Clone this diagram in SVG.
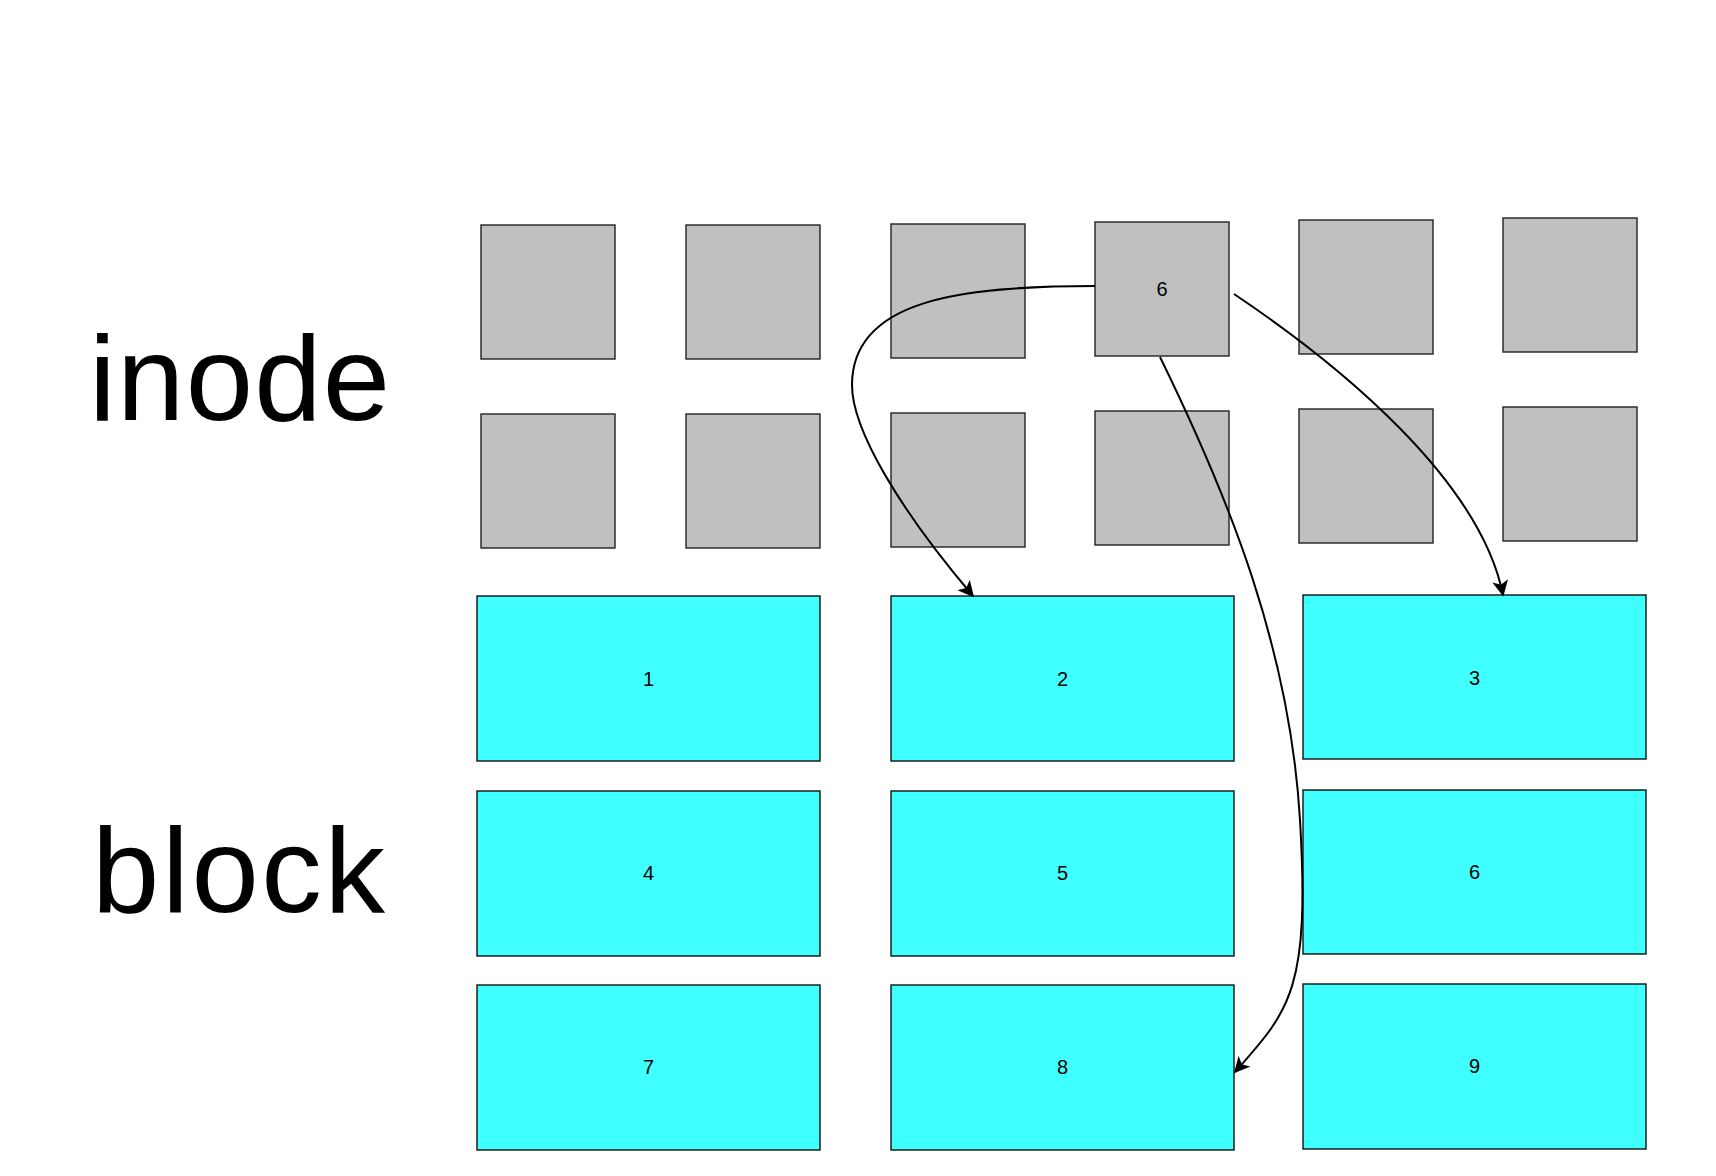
<svg xmlns="http://www.w3.org/2000/svg" width="1716" height="1176" viewBox="0 0 1716 1176">
<style>
.ino{fill:#c0c0c0;stroke:#222;stroke-width:1.4}
.blk{fill:#40ffff;stroke:#111;stroke-width:1.4}
.lbl{font-family:"Liberation Sans",Arial,sans-serif;font-size:20px;fill:#000;text-anchor:middle;dominant-baseline:central}
.big{font-family:"Liberation Sans",Arial,sans-serif;font-size:121px;fill:#000}
.edge{fill:none;stroke:#000;stroke-width:2}
</style>
<defs>
<marker id="arr" viewBox="0 0 10 10" refX="9" refY="5" markerWidth="8" markerHeight="8" markerUnits="strokeWidth" orient="auto">
<path d="M0,0 L10,5 L0,10 L2.5,5 z" fill="#000"/>
</marker>
</defs>
<rect width="1716" height="1176" fill="#fff"/>
<text class="big" x="89" y="420" textLength="301" lengthAdjust="spacing">inode</text>
<text class="big" x="92" y="912" textLength="293" lengthAdjust="spacing">block</text>
<g id="inode-r1c1"><rect class="ino" x="481" y="225" width="134" height="134"/></g>
<g id="inode-r1c2"><rect class="ino" x="686" y="225" width="134" height="134"/></g>
<g id="inode-r1c3"><rect class="ino" x="891" y="224" width="134" height="134"/></g>
<g id="inode-6"><rect class="ino" x="1095" y="222" width="134" height="134"/><text class="lbl" x="1162" y="289">6</text></g>
<g id="inode-r1c5"><rect class="ino" x="1299" y="220" width="134" height="134"/></g>
<g id="inode-r1c6"><rect class="ino" x="1503" y="218" width="134" height="134"/></g>
<g id="inode-r2c1"><rect class="ino" x="481" y="414" width="134" height="134"/></g>
<g id="inode-r2c2"><rect class="ino" x="686" y="414" width="134" height="134"/></g>
<g id="inode-r2c3"><rect class="ino" x="891" y="413" width="134" height="134"/></g>
<g id="inode-r2c4"><rect class="ino" x="1095" y="411" width="134" height="134"/></g>
<g id="inode-r2c5"><rect class="ino" x="1299" y="409" width="134" height="134"/></g>
<g id="inode-r2c6"><rect class="ino" x="1503" y="407" width="134" height="134"/></g>
<g id="block-1"><rect class="blk" x="477" y="596" width="343" height="165"/><text class="lbl" x="648.5" y="679">1</text></g>
<g id="block-2"><rect class="blk" x="891" y="596" width="343" height="165"/><text class="lbl" x="1062.5" y="679">2</text></g>
<g id="block-3"><rect class="blk" x="1303" y="595" width="343" height="164"/><text class="lbl" x="1474.5" y="678">3</text></g>
<g id="block-4"><rect class="blk" x="477" y="791" width="343" height="165"/><text class="lbl" x="648.5" y="873">4</text></g>
<g id="block-5"><rect class="blk" x="891" y="791" width="343" height="165"/><text class="lbl" x="1062.5" y="873">5</text></g>
<g id="block-6"><rect class="blk" x="1303" y="790" width="343" height="164"/><text class="lbl" x="1474.5" y="872">6</text></g>
<g id="block-7"><rect class="blk" x="477" y="985" width="343" height="165"/><text class="lbl" x="648.5" y="1067">7</text></g>
<g id="block-8"><rect class="blk" x="891" y="985" width="343" height="165"/><text class="lbl" x="1062.5" y="1067">8</text></g>
<g id="block-9"><rect class="blk" x="1303" y="984" width="343" height="165"/><text class="lbl" x="1474.5" y="1066">9</text></g>
<g id="connectors">
<path class="edge" marker-end="url(#arr)" d="M1095,286 C960,286 852,300 852,385 C852,430 900,510 973,596"/>
<path class="edge" marker-end="url(#arr)" d="M1234,294 C1340,365 1480,480 1503,595"/>
<path class="edge" marker-end="url(#arr)" d="M1160,357 C1230,500 1290,650 1300,820 C1310,990 1290,1010 1235,1072"/>
</g>
</svg>
